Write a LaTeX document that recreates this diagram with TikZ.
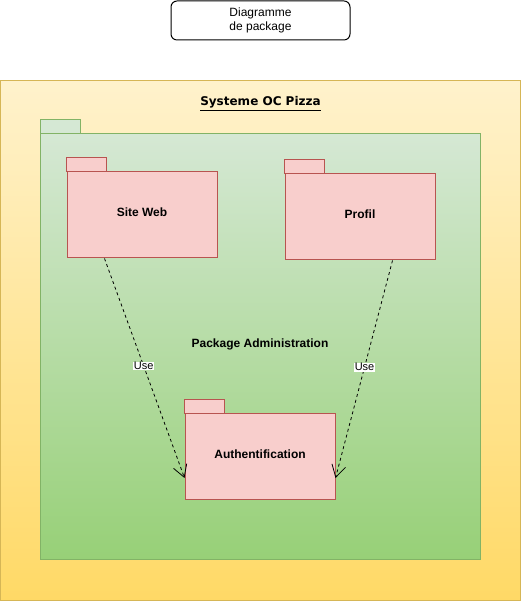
\documentclass[tikz,border=0pt]{standalone}
\usepackage{fontspec}
\setmainfont{Liberation Sans}
\newfontfamily\sysfont{DejaVu Sans}
\usepackage{tikz}
\usetikzlibrary{arrows.meta, positioning}

\definecolor{sysTop}{HTML}{FFF2CC}
\definecolor{sysBot}{HTML}{FFD966}
\definecolor{sysLine}{HTML}{D6B656}
\definecolor{admTop}{HTML}{D5E8D4}
\definecolor{admBot}{HTML}{97D077}
\definecolor{admLine}{HTML}{82B366}
\definecolor{pkgFill}{HTML}{F8CECC}
\definecolor{pkgLine}{HTML}{B85450}

\begin{document}
\begin{tikzpicture}[
  x=1pt, y=1pt,
  every node/.style = {font=\fontsize{12}{14}\selectfont},
  caption/.style = {rectangle, rounded corners=6pt, draw, fill=white, line width=1pt,
                    minimum width=179pt, minimum height=39pt, align=center},
  pkg/.style     = {rectangle, draw=pkgLine, fill=pkgFill, line width=1pt,
                    minimum width=150pt, minimum height=86pt,
                    text height=9pt, text depth=6pt,
                    font=\fontsize{12}{14}\selectfont\bfseries},
  tab/.style     = {draw=pkgLine, fill=pkgFill, line width=1pt},
  use/.style     = {-{Straight Barb[length=12pt,width=14pt]}, line width=0.8pt,
                    dash pattern=on 3pt off 3pt},
  lbl/.style     = {fill=white, inner sep=0.6pt, font=\fontsize{11}{12}\selectfont}
]
\useasboundingbox (0,0) rectangle (521,601);

% Caption
\node[caption] (cap) at (260.5,580.5) {Diagramme\\de package};

% System container
\draw[sysLine, top color=sysTop, bottom color=sysBot, line width=1pt]
  (0.5,0.5) rectangle (520.5,520);
\node[font=\sysfont\fontsize{12}{14}\selectfont\bfseries] (sys) at (260.5,497.5)
  {\underline{Systeme OC Pizza}};

% Administration package
\draw[admLine, fill=admTop, line width=1pt] (40,467) rectangle (80,481);
\draw[admLine, top color=admTop, bottom color=admBot, line width=1pt]
  (40,41) rectangle (480,467);
\node[font=\fontsize{12}{14}\selectfont\bfseries] (adm) at (260,257) {Package Administration};

% Packages
\node[pkg] (web)  at (142,386) {Site Web};
\node[pkg] (prof) at (360,384) {Profil};
\node[pkg] (auth) at (260,144) {Authentification};
\foreach \p in {web, prof, auth}
  \draw[tab] (\p.north west) rectangle ++(40,14);

% Dependencies
\draw[use] ([xshift=38pt]web.south west) -- node[lbl, pos=0.49]{Use} ([yshift=-21pt]auth.west);
\draw[use] ([xshift=-43pt]prof.south east) -- node[lbl, pos=0.49]{Use} ([yshift=-21pt]auth.east);

\end{tikzpicture}
\end{document}
